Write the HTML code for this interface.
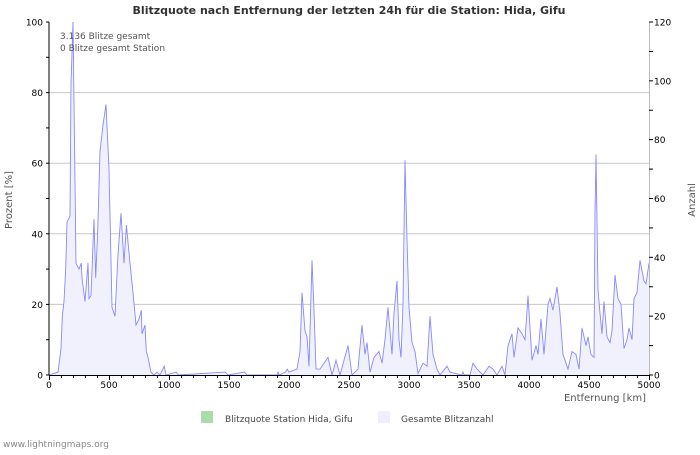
<!DOCTYPE html>
<html><head><meta charset="utf-8"><style>
body{margin:0;background:#fff;}
svg text{font-family:"DejaVu Sans","Liberation Sans",sans-serif;}
</style></head><body>
<svg width="700" height="450" viewBox="0 0 700 450" id="chart">
<rect width="700" height="450" fill="#fff"/>
<text x="349" y="14" text-anchor="middle" font-size="11" font-weight="bold" fill="#333">Blitzquote nach Entfernung der letzten 24h für die Station: Hida, Gifu</text>
<g id="grid"></g>
<g id="series"></g>
<g id="axes"></g>
<text x="60" y="39" font-size="9" fill="#555">3.136 Blitze gesamt</text>
<text x="60" y="51" font-size="9" fill="#555">0 Blitze gesamt Station</text>
<text transform="translate(12,200) rotate(-90)" text-anchor="middle" font-size="10" fill="#555">Prozent   [%]</text>
<text transform="translate(695,200) rotate(-90)" text-anchor="middle" font-size="10" fill="#555">Anzahl</text>
<text x="646" y="401" text-anchor="end" font-size="10" fill="#555">Entfernung   [km]</text>
<rect x="201" y="411" width="12" height="12" fill="#aaddaa"/>
<text x="225" y="422" font-size="9" fill="#444">Blitzquote Station Hida, Gifu</text>
<rect x="378" y="411" width="12" height="12" fill="#eeeeff"/>
<text x="401" y="422" font-size="9" fill="#444">Gesamte Blitzanzahl</text>
<text x="3" y="447" font-size="9" fill="#888">www.lightningmaps.org</text>
</svg>
<script>
const distKm=[
0,75,100,111,125,139,150,175,183,200,
225,250,269,275,300,325,333,350,375,389,
406,425,450,475,500,525,550,575,600,625,
645,675,700,725,750,769,775,800,811,825,
850,875,900,925,960,975,1060,1080,1470,1490,
1630,1650,
1900,1908,1916,1970,1985,2000,2067,2092,2108,2133,
2150,2167,2192,2208,2225,2258,2325,2358,2392,2425,
2492,2525,2575,2608,2633,2650,2675,2708,2750,2775,
2800,2825,2858,2875,2900,2917,2933,2950,2967,2983,
3000,3025,3050,3075,3117,3150,3175,3200,3233,3258,
3317,3342,3440,3450,3460,3508,3533,3567,3617,3667,
3700,3733,3775,3800,3825,3858,3875,3908,3942,3967,
3992,4025,4058,4075,4100,4125,4158,4175,4200,4233,
4258,4283,4308,4325,4358,4392,4417,4442,4475,4492,
4517,4542,4550,4558,4575,4592,4608,4625,4650,4675,
4692,4717,4742,4767,4792,4817,4833,4858,4875,4900,
4925,4958,4975,5000];
const strikeCount=[
0,1,9,20,25,36,52,54,99,120,
38,36,38,33,25,38,26,27,53,33,
49,76,85,92,70,23,20,41,55,38,
51,38,28,17,19,22,14,17,8,6,
1,0,1,0,3,0,1,0,1,0,
1,0,
0,1,0,1,2,1,2,8,28,15,
13,3,39,22,2,2,6,0,5,0,
10,0,2,17,7,11,1,6,8,4,
12,23,7,21,32,12,6,24,73,46,
23,11,8,0.5,4,3,20,7,2,0,
3,1,0,1,0,0,4,2,0,3,
2,0,3,0,10,14,6,16,14,12,
27,5,10,7,19,7,24,26,22,30,
21,7,4,2,8,7,2,16,10,13,
7,6,55,75,29,21,14,25,13,11,
15,34,26,24,9,12,16,12,26,28,
39,32,31,38];
const leftTicks=[0,20,40,60,80,100];
const rightTicks=[0,20,40,60,80,100,120];
const xTicks=[0,500,1000,1500,2000,2500,3000,3500,4000,4500,5000];
</script>
<script>
(function(){
const NS="http://www.w3.org/2000/svg";
const X0=49,X1=649,Y0=375,Y1=22;
const xs=km=>X0+(km/5000)*(X1-X0);
const yL=p=>Y0-(p/100)*(Y0-Y1);
const yR=v=>Y0-(v/120)*(Y0-Y1);
function mk(tag,attrs,parent){const e=document.createElementNS(NS,tag);for(const k in attrs)e.setAttribute(k,attrs[k]);parent.appendChild(e);return e;}
const grid=document.getElementById('grid'),ser=document.getElementById('series'),ax=document.getElementById('axes');
leftTicks.forEach(t=>{if(t>0&&t<100){const l=mk('line',{x1:X0,x2:X1,y1:yL(t),y2:yL(t),stroke:'#c8c8c8','stroke-width':1},grid);

}});
const n=Math.min(distKm.length,strikeCount.length);
let pts=[];
for(let i=0;i<n;i++){pts.push(xs(distKm[i]).toFixed(1)+','+yR(strikeCount[i]).toFixed(1));}
const lineD='M'+pts.join(' L');
const areaD='M'+xs(distKm[0])+','+Y0+' L'+pts.join(' L')+' L'+xs(distKm[n-1])+','+Y0+' Z';
const area=mk('path',{d:areaD,fill:'#f1f1fd',stroke:'none'},ser);


const line=mk('path',{d:lineD,fill:'none',stroke:'#8888ff','stroke-width':0.9},ser);


const axl=mk('line',{x1:X0,x2:X0,y1:Y1,y2:Y0,stroke:'#000'},ax);


const axb=mk('line',{x1:X0,x2:X1+1,y1:Y0+0.5,y2:Y0+0.5,stroke:'#000'},ax);


const axr=mk('line',{x1:X1+0.5,x2:X1+0.5,y1:Y1,y2:Y0,stroke:'#bbb'},ax);


for(let p=0;p<=100;p+=10){mk('line',{x1:X0-3,x2:X0,y1:yL(p),y2:yL(p),stroke:'#000'},ax);}
for(let v=0;v<=120;v+=10){mk('line',{x1:X1,x2:X1+4,y1:yR(v),y2:yR(v),stroke:'#000'},ax);}
for(let k=0;k<=5000;k+=100){mk('line',{x1:xs(k)+0.5,x2:xs(k)+0.5,y1:Y0,y2:Y0+(k%500===0?5:3),stroke:'#000'},ax);}
leftTicks.forEach(t=>{const e=mk('text',{x:X0-6,y:yL(t)+3.5,'text-anchor':'end','font-size':9,fill:'#000'},ax);e.textContent=t;

});
rightTicks.forEach(t=>{const e=mk('text',{x:X1+5,y:yR(t)+3.5,'font-size':9,fill:'#000'},ax);e.textContent=t;

});
xTicks.forEach(t=>{const e=mk('text',{x:xs(t),y:Y0+13,'text-anchor':'middle','font-size':9,fill:'#000'},ax);e.textContent=t;

});
})();
</script>
</body></html>
